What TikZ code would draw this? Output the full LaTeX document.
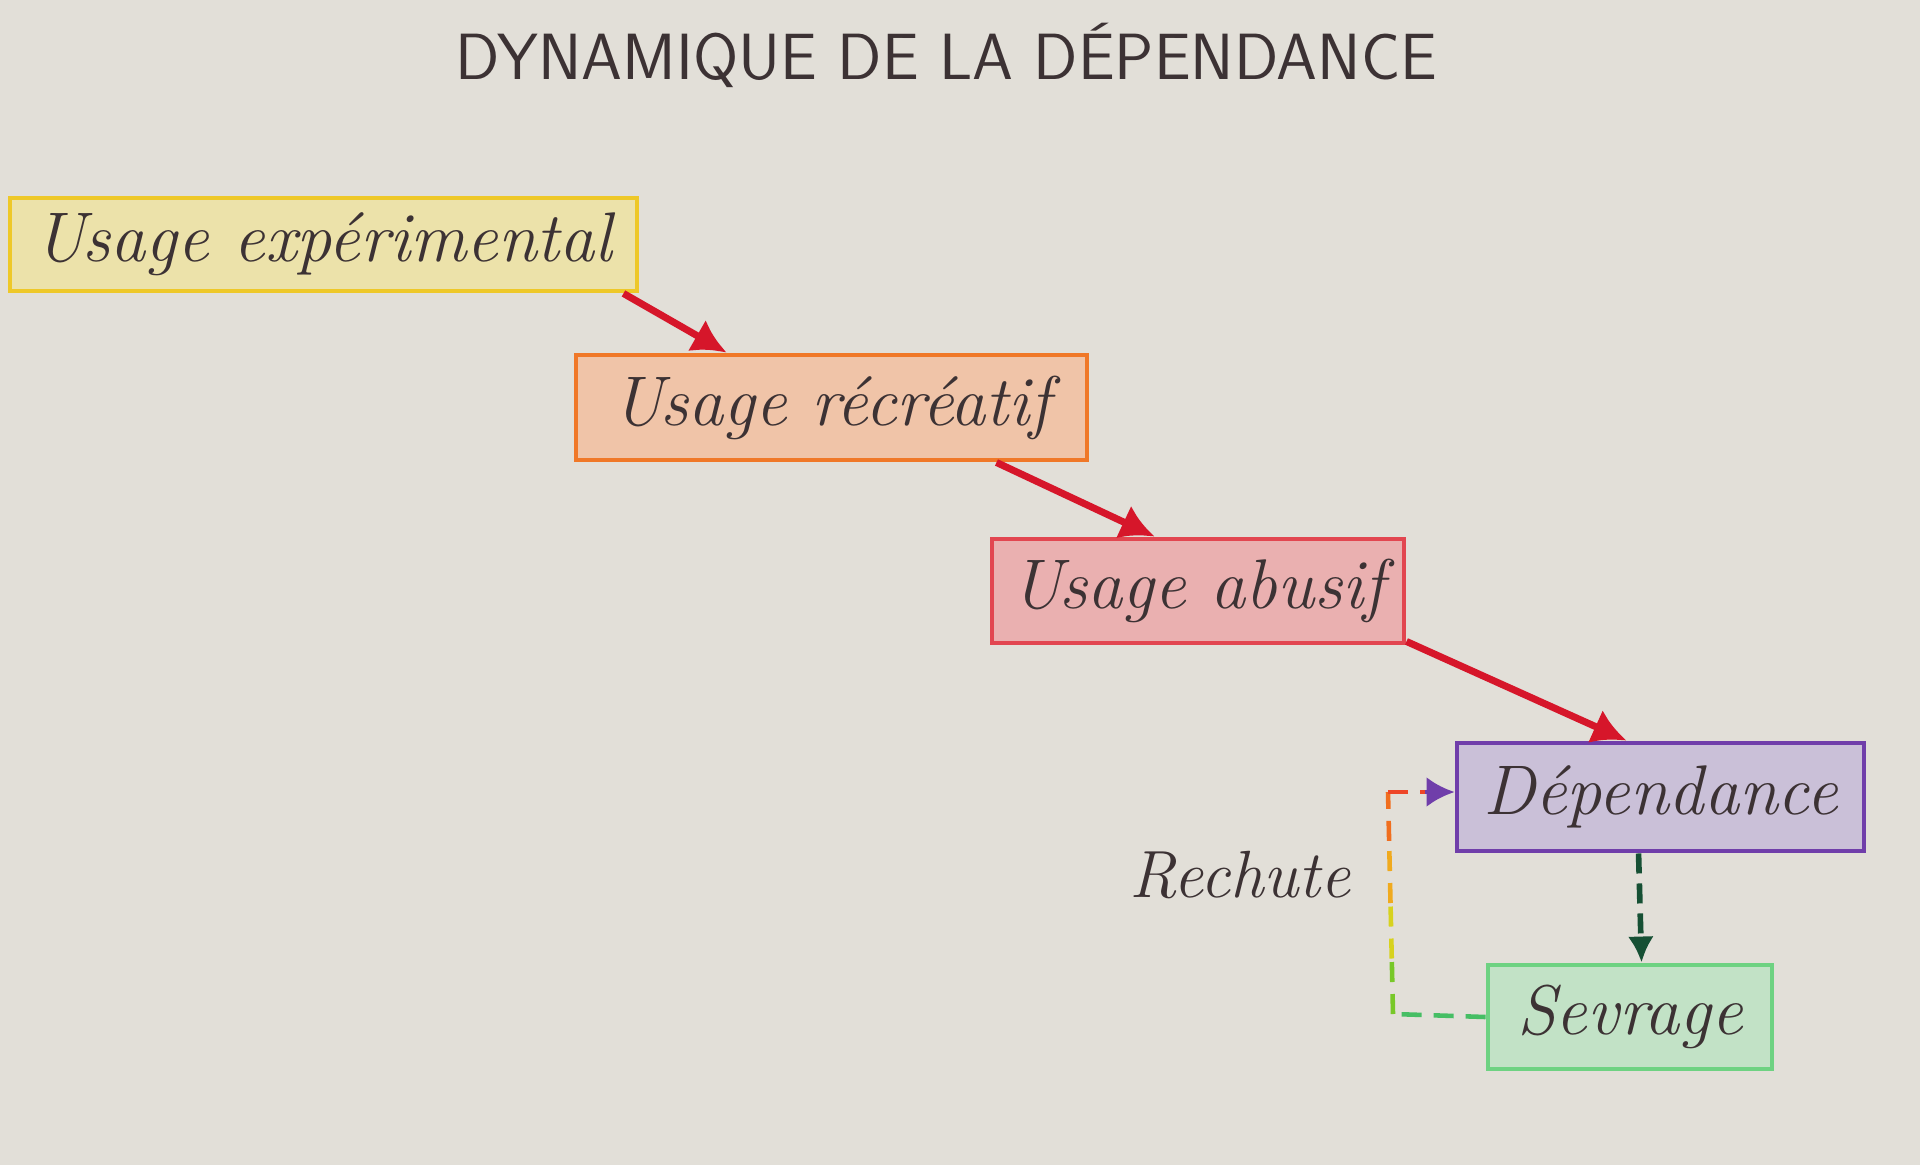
\documentclass[tikz,border=0pt]{standalone}
\usepackage{amsmath}
\usepackage{amssymb}
\usepackage{tikz}
\usetikzlibrary{arrows.meta,calc}

\definecolor{paper}{RGB}{226,223,216}
\definecolor{ink}{RGB}{60,50,52}
\definecolor{yelline}{RGB}{238,200,40}
\definecolor{yelfill}{RGB}{236,226,170}
\definecolor{oraline}{RGB}{240,120,40}
\definecolor{orafill}{RGB}{240,196,168}
\definecolor{redline}{RGB}{226,70,80}
\definecolor{redfill}{RGB}{234,176,176}
\definecolor{purline}{RGB}{112,62,170}
\definecolor{purfill}{RGB}{202,192,216}
\definecolor{grnline}{RGB}{110,210,130}
\definecolor{grnfill}{RGB}{194,226,198}
\definecolor{arrred}{RGB}{214,22,42}
\definecolor{darkgrn}{RGB}{22,80,52}

\begin{document}
\begin{tikzpicture}

\tikzset{stage/.style = {shape=rectangle,draw,line width=1.4pt,inner sep=0pt,
  text=ink,font=\fontsize{20}{24}\selectfont\itshape}}
\tikzset{edge/.style = {-{Latex[length=3.4mm,width=3.6mm]}, line width=2pt, arrred}}
\tikzset{relapse/.style = {line width=1.3pt, dash pattern=on 0.2cm off 0.12cm}}

\fill[paper] (0,0) rectangle (19.2,11.65);

% title
\node[text=ink,font=\fontsize{18.6}{22}\selectfont\sffamily] (title) at (9.46,11.10)
  {DYNAMIQUE DE LA DÉPENDANCE};

% vertices
\node[stage,draw=yelline,fill=yelfill,minimum width=6.27cm,minimum height=0.93cm]
  (ue) at (3.235,9.205) {Usage expérimental};
\node[stage,draw=oraline,fill=orafill,minimum width=5.11cm,minimum height=1.05cm]
  (ur) at (8.315,7.575) {Usage récréatif};
\node[stage,draw=redline,fill=redfill,minimum width=4.12cm,minimum height=1.04cm]
  (ua) at (11.98,5.74) {Usage abusif};
\node[stage,draw=purline,fill=purfill,minimum width=4.07cm,minimum height=1.08cm]
  (dp) at (16.605,3.68) {Dépendance};
\node[stage,draw=grnline,fill=grnfill,minimum width=2.84cm,minimum height=1.04cm]
  (sv) at (16.30,1.48) {Sevrage};
\node[text=ink,font=\fontsize{19}{23}\selectfont\itshape] (rc) at (12.40,2.90) {Rechute};

%edges
\draw[edge] ([xshift=-0.16cm]ue.south east) -- ([xshift=1.53cm]ur.north west);
\draw[edge] ([xshift=-0.93cm]ur.south east) -- ([xshift=1.65cm]ua.north west);
\draw[edge] ([yshift=0.04cm]ua.south east) -- ([xshift=1.72cm]dp.north west);
\draw[-{Latex[length=2.6mm,width=2.6mm]}, line width=1.6pt, darkgrn, dash pattern=on 0.2cm off 0.1cm]
  ([xshift=1.84cm]dp.south west) -- ([xshift=1.56cm]sv.north west);

% rechute loop
\coordinate (lb) at (13.93,1.51);
\coordinate (lt) at (13.88,3.73);
\draw[relapse,color={rgb,255:red,70;green,190;blue,100}] (sv.west) -- (lb);
\draw[relapse,color={rgb,255:red,120;green,200;blue,40}] (lb) -- ($(lb)!0.25!(lt)$);
\draw[relapse,color={rgb,255:red,215;green,210;blue,30}] ($(lb)!0.25!(lt)$) -- ($(lb)!0.5!(lt)$);
\draw[relapse,color={rgb,255:red,240;green,170;blue,30}] ($(lb)!0.5!(lt)$) -- ($(lb)!0.78!(lt)$);
\draw[relapse,color={rgb,255:red,240;green,110;blue,30}] ($(lb)!0.78!(lt)$) -- (lt);
\draw[relapse,color={rgb,255:red,238;green,70;blue,40}] (lt) -- ([xshift=-0.3cm]dp.west |- lt);
\draw[-{Latex[length=2.8mm,width=3mm]}, line width=1.3pt, purline] ([xshift=-0.3cm]dp.west |- lt) -- (dp.west |- lt);

\end{tikzpicture}
\end{document}
